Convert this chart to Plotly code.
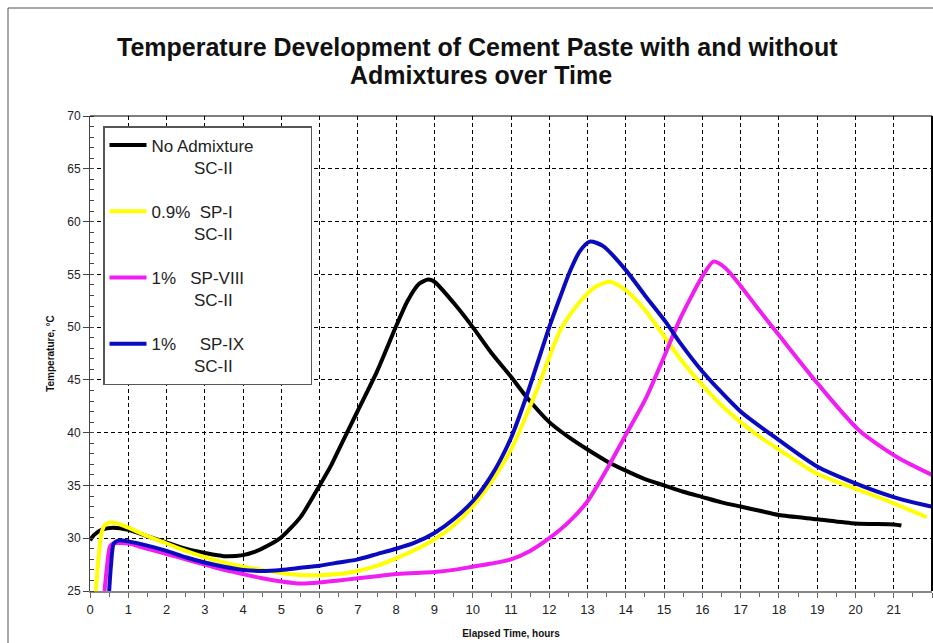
import plotly.graph_objects as go

# ---- data ----
no_adm_x = [0, 0.1, 0.3, 0.6, 1, 1.5, 2, 2.5, 3, 3.5, 4, 4.3, 4.7, 5, 5.5, 6, 6.3, 6.5, 7, 7.5, 8, 8.3, 8.6, 8.84,
            9, 9.5, 10, 10.5, 11, 11.4, 12, 12.5, 13, 13.5, 14, 14.5, 15, 15.5, 16, 16.5, 17, 17.5, 18, 19, 20, 21, 21.2]
no_adm_y = [29.8, 30.3, 30.8, 31.0, 30.8, 30.2, 29.6, 29.0, 28.6, 28.3, 28.4, 28.7, 29.4, 30.1, 32.0, 35.0, 36.9, 38.4,
            42.1, 45.8, 50.1, 52.5, 54.1, 54.5, 54.3, 52.3, 50.0, 47.5, 45.3, 43.4, 41.0, 39.6, 38.4, 37.3, 36.4, 35.6,
            35.0, 34.4, 33.9, 33.4, 33.0, 32.6, 32.2, 31.8, 31.4, 31.3, 31.2]

sp1_x = [0.15, 0.22, 0.3, 0.4, 0.55, 0.7, 1, 1.5, 2, 2.5, 3, 3.5, 4, 4.5, 5, 5.5, 6, 6.5, 7, 7.5, 8, 8.5, 9, 9.5, 10,
         10.5, 11, 11.66, 12.3, 12.8, 13.2, 13.58, 14.0, 14.46, 14.97, 15.4, 16, 16.5, 17, 17.5, 18, 19, 20, 21, 21.86]
sp1_y = [25, 28, 30.5, 31.3, 31.5, 31.4, 31.0, 30.2, 29.5, 28.8, 28.2, 27.7, 27.3, 27.0, 26.7, 26.5, 26.5, 26.6, 26.9,
         27.4, 28.1, 28.9, 29.9, 31.2, 33.0, 35.4, 38.4, 43.9, 49.8, 52.4, 53.8, 54.3, 53.5, 51.8, 49.3, 47.1,
         44.5, 42.6, 41.0, 39.6, 38.4, 36.1, 34.7, 33.3, 32.0]

sp8_x = [0.38, 0.45, 0.52, 0.6, 1, 1.5, 2, 2.5, 3, 3.5, 4, 4.5, 5, 5.5, 6, 6.5, 7, 7.5, 8, 8.5, 9, 9.5, 10, 10.5, 11,
         11.5, 12, 12.5, 13, 13.5, 14, 14.53, 15, 15.42, 16, 16.29, 16.6, 17, 17.4, 18.03, 19, 20.1, 21.08, 22]
sp8_y = [25, 27.5, 29.2, 29.5, 29.5, 29.0, 28.5, 28.0, 27.5, 27.0, 26.6, 26.2, 25.9, 25.7, 25.8, 26.0, 26.2, 26.4, 26.6,
         26.7, 26.8, 27.0, 27.3, 27.6, 28.0, 28.8, 30.0, 31.5, 33.5, 36.5, 39.8, 43.3, 47.2, 50.8, 54.8, 56.2, 55.6,
         53.9, 52.0, 49.1, 44.7, 40.2, 37.7, 36.0]

sp9_x = [0.5, 0.55, 0.62, 0.75, 1, 1.5, 2, 2.5, 3, 3.5, 4, 4.5, 5, 5.5, 6, 6.5, 7, 7.5, 8, 8.5, 9, 9.5, 10, 10.5, 11,
         11.4, 12, 12.28, 12.53, 12.8, 13.06, 13.4, 14, 14.5, 15.06, 15.4, 16, 17, 18, 19, 20, 21, 21.86, 22]
sp9_y = [25, 27.5, 29.5, 29.8, 29.7, 29.3, 28.8, 28.2, 27.7, 27.3, 27.0, 26.9, 27.0, 27.2, 27.4, 27.7, 28.0, 28.5, 29.0,
         29.6, 30.5, 31.8, 33.5, 36.0, 39.5, 43.4, 50.0, 52.8, 55.2, 57.2, 58.1, 57.7, 55.4, 53.0, 50.4, 48.6, 45.8,
         42.0, 39.3, 36.8, 35.2, 33.9, 33.1, 33.0]

NB = "\u00a0"
series_names = [
    "No Admixture" + NB * 11 + "<br>" + NB * 9 + "SC-II",
    "0.9%" + NB * 2 + "SP-I<br>" + NB * 9 + "SC-II",
    "1%" + NB * 3 + "SP-VIII<br>" + NB * 9 + "SC-II",
    "1%" + NB * 5 + "SP-IX<br>" + NB * 9 + "SC-II",
]
series_colors = ["#000000", "#FFFF00", "#F01EF0", "#0A0AC0"]
series_x = [no_adm_x, sp1_x, sp8_x, sp9_x]
series_y = [no_adm_y, sp1_y, sp8_y, sp9_y]

x_ticks = list(range(0, 23))
y_ticks = list(range(25, 71, 5))

title_lines = ["Temperature Development of Cement Paste with and without", "Admixtures over Time"]

fig = go.Figure()
for i, (name, col, xs, ys) in enumerate(zip(series_names, series_colors, series_x, series_y)):
    fig.add_trace(go.Scatter(
        x=xs, y=ys, mode="lines", name=name, legendgroup=f"g{i}",
        line=dict(color=col, width=4, shape="spline", smoothing=0.7),
    ))

L, R, T, B = 90, 1, 116, 52
W, H = 933, 643
pw, ph = W - L - R, H - T - B

def px_x(p):
    return (p - L) / pw

def px_y(p):
    return (H - B - p) / ph

annotations = []
for txt, ypx, xpx in zip(title_lines, [47, 75], [477, 481]):
    annotations.append(dict(
        text="<b>" + txt + "</b>", xref="paper", yref="paper", x=px_x(xpx), y=px_y(ypx),
        xanchor="center", yanchor="middle", showarrow=False,
        font=dict(family="Liberation Sans", size=25, color="#111"),
    ))

fig.update_layout(
    width=W, height=H,
    margin=dict(l=L, r=R, t=T, b=B, pad=0),
    paper_bgcolor="white", plot_bgcolor="white",
    font=dict(family="Liberation Sans", size=12, color="#222"),
    showlegend=True,
    annotations=annotations,
    legend=dict(
        x=px_x(103), y=px_y(126), xanchor="left", yanchor="top",
        bgcolor="white", bordercolor="#555", borderwidth=1.5,
        font=dict(family="Liberation Sans", size=17, color="#222"),
        tracegroupgap=19, valign="top", itemwidth=37,
    ),
    xaxis=dict(
        range=[0, 22], tickmode="array", tickvals=x_ticks, ticktext=[str(v) for v in x_ticks],
        showgrid=True, gridcolor="#000", gridwidth=1, griddash="4px,3px",
        showline=True, linecolor="#888", linewidth=2,
        ticks="outside", ticklen=5, tickcolor="#666", tickwidth=1,
        minor=dict(dtick=0.5, ticks="outside", ticklen=4, tickcolor="#666", showgrid=False),
        zeroline=False, tickfont=dict(size=13, color="#222"),
        title=dict(text="<b>Elapsed Time, hours</b>", font=dict(size=10, color="#111"), standoff=14),
    ),
    yaxis=dict(
        range=[25, 70], tickmode="array", tickvals=y_ticks, ticktext=[str(v) for v in y_ticks],
        showgrid=True, gridcolor="#000", gridwidth=1, griddash="4px,3px",
        showline=True, linecolor="#444", linewidth=1,
        ticks="outside", ticklen=6, tickcolor="#444", tickwidth=1,
        minor=dict(dtick=1, ticks="inside", ticklen=4, tickcolor="#444", showgrid=False),
        zeroline=False, tickfont=dict(size=12, color="#222"),
        title=dict(text="<b>Temperature, \u00b0C</b>", font=dict(size=10, color="#111"), standoff=10),
    ),
    shapes=[
        dict(type="line", xref="paper", yref="paper", x0=0, x1=1, y0=1, y1=1, line=dict(color="#000", width=1)),
        dict(type="line", xref="paper", yref="paper", x0=1, x1=1, y0=0, y1=1, line=dict(color="#000", width=2)),
        dict(type="line", xref="paper", yref="paper", x0=px_x(8), x1=px_x(8), y0=px_y(8), y1=px_y(H + 5),
             line=dict(color="#555", width=1)),
        dict(type="line", xref="paper", yref="paper", x0=px_x(8), x1=px_x(W + 5), y0=px_y(8), y1=px_y(8),
             line=dict(color="#555", width=1)),
    ],
)

fig.write_html(
    "out.html",
    config={"displayModeBar": False},
    post_script="document.body.style.margin='0';document.body.style.padding='0';",
)
